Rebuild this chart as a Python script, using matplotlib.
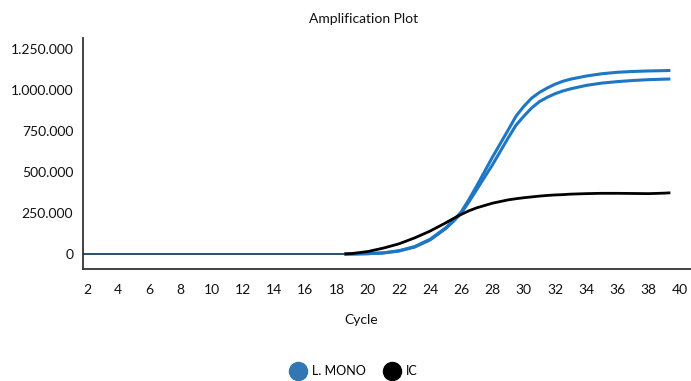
import matplotlib
matplotlib.use("Agg")
import matplotlib.pyplot as plt
from matplotlib.lines import Line2D
from matplotlib.ticker import FuncFormatter

plt.rcParams['font.family'] = ['Lato', 'DejaVu Sans']

# Flat pre-amplification baseline (cycles 1 .. start of curves)
baseline_cycles = [1, 18.5]
baseline_values = [0, 0]

# Cycle positions of the amplification curves (finer steps through the bends)
cycles = [18.5, 19, 20, 21, 22, 23, 24, 25, 25.5, 26, 26.5, 27, 28, 29, 29.5,
          30, 30.5, 31, 31.5, 32, 32.5, 33, 34, 35, 36, 37, 38, 39, 39.4]

mono_a = [0, 0, 2000, 7000, 20000, 45000, 90000, 160000, 205000, 258000,
          335000, 418000, 592000, 756000, 840000, 900000, 950000, 985000,
          1012000, 1035000, 1053000, 1066000, 1085000, 1099000, 1108000,
          1113000, 1116000, 1118000, 1119000]
mono_b = [0, 0, 2000, 6000, 18000, 42000, 86000, 155000, 200000, 250000,
          320000, 395000, 545000, 708000, 785000, 840000, 890000, 929000,
          955000, 977000, 994000, 1007000, 1028000, 1042000, 1051000,
          1058000, 1063000, 1066000, 1067000]
ic = [0, 3000, 15000, 36000, 62000, 98000, 140000, 190000, 217000, 242000,
      264000, 282000, 310000, 330000, 337000, 343000, 348000, 353000,
      357000, 360000, 362000, 365000, 368000, 370000, 370000, 369000,
      368000, 371000, 373000]

x_ticks = list(range(2, 41, 2))
y_ticks = [0, 250000, 500000, 750000, 1000000, 1250000]

series_names = ["L. MONO", "IC"]
line_blue = "#1f77c4"
legend_blue = "#3277b3"

fig = plt.figure(figsize=(6.91, 3.81), dpi=100)
ax = fig.add_axes([83 / 691, 112 / 381, 608 / 691, 231 / 381])

ax.plot(baseline_cycles, baseline_values, color="#1b3f66", lw=1.3, zorder=2)
for values in (mono_a, mono_b):
    ax.plot(cycles, values, color=line_blue, lw=2.2, zorder=3,
            solid_joinstyle="round", solid_capstyle="butt")
ax.plot(cycles, ic, color="black", lw=2.0, zorder=4,
        solid_joinstyle="round", solid_capstyle="butt")

ax.set_xlim(1.744, 40.72)
ax.set_ylim(-91500, 1317000)
ax.set_xticks(x_ticks)
ax.set_yticks(y_ticks)
ax.yaxis.set_major_formatter(FuncFormatter(lambda v, p: f"{int(v):,}".replace(",", ".")))
ax.tick_params(axis="both", length=0, labelsize=10, colors="#111111")
ax.tick_params(axis="x", pad=11)
ax.tick_params(axis="y", pad=7)

for side in ("top", "right"):
    ax.spines[side].set_visible(False)
for side in ("left", "bottom"):
    ax.spines[side].set_color("#333333")
    ax.spines[side].set_linewidth(1.3)

fig.text(364 / 691, 1 - 19 / 381, "Amplification Plot", ha="center", va="center",
         fontsize=10, color="#111111")
fig.text(361 / 691, 1 - 320 / 381, "Cycle", ha="center", va="center",
         fontsize=10, color="#111111")

handles = [
    Line2D([], [], marker="o", linestyle="none", markersize=13,
           markerfacecolor=legend_blue, markeredgecolor=legend_blue),
    Line2D([], [], marker="o", linestyle="none", markersize=13,
           markerfacecolor="black", markeredgecolor="black"),
]
fig.legend(handles, series_names, loc="center", bbox_to_anchor=(355 / 691, 1 - 371 / 381),
           ncol=2, frameon=False, fontsize=9, handletextpad=0.6, columnspacing=1.6,
           handlelength=1.0)

fig.savefig("out.png", dpi=100)
